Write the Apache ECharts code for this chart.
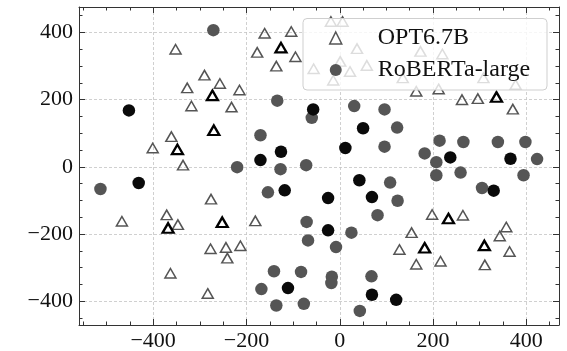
<!DOCTYPE html>
<html>
<head>
<meta charset="utf-8">
<script src="https://cdn.jsdelivr.net/npm/echarts@6/dist/echarts.min.js"></script>
<style>
html,body{margin:0;padding:0;background:#fff;}
#chart{width:567px;height:351px;}
</style>
</head>
<body>
<div id="chart"></div>
<script>
// ---- data ----
const seriesNames = ['OPT6.7B', 'RoBERTa-large'];
const optGray = [
  [-352,350],[-327,235],[-290,273],[-257,248],[-215,229],[-318,181],[-232,178],[-361,90],[-401,56],[-336,5],
  [-177,341],[-161,398],[-136,300],[-104,403],[-95,328],
  [-19,433],[6,433],[37,352],[1,314],[-56,292],[22,284],[58,302],[-14,258],[135,265],[173,344],[220,336],[308,265],[377,245],
  [164,225],[212,232],[262,200],[296,203],[371,172],
  [198,-142],[264,-144],[154,-196],[128,-246],[164,-290],[216,-281],[357,-179],[343,-206],[364,-252],[311,-292],
  [-467,-162],[-371,-143],[-347,-172],[-276,-96],[-181,-161],[-277,-244],[-244,-240],[-241,-272],[-213,-235],[-363,-317],[-283,-377]
];
const optBlack = [
  [-126,355],[-273,213],[-270,109],[-348,52],[-368,-182],[-252,-165],[182,-241],[233,-154],[310,-234],[336,208]
];
const robGray = [
  [-271,407],[-220,-1],[-170,94],[-127,-7],[-134,197],[-60,146],[-72,5],[31,181],[96,171],[123,117],[96,60],
  [182,40],[214,78],[265,74],[207,14],[339,74],[398,74],[423,23],[207,-25],[259,-17],[394,-25],[108,-47],
  [305,-63],[124,-101],[81,-144],[-71,-164],[25,-196],[-68,-219],[-8,-239],[-83,-313],[-17,-327],[-18,-346],
  [68,-326],[-77,-408],[43,-429],[-513,-66],[-141,-311],[-168,-364],[-136,-413],[-154,-76]
];
const robBlack = [
  [-452,168],[-170,20],[-126,45],[-57,171],[50,115],[12,56],[237,28],[366,24],[42,-40],[-118,-70],
  [-25,-93],[69,-90],[-25,-189],[-111,-361],[69,-381],[121,-396],[330,-71],[-431,-48]
];
const xMajor = [-400,-200,0,200,400];
const xMinor = [-550,-500,-450,-350,-300,-250,-150,-100,-50,50,100,150,250,300,350,450];
const yMajor = [-400,-200,0,200,400];
const yMinor = [-450,-350,-300,-250,-150,-100,-50,50,100,150,250,300,350,450];
const xRange = [-559, 470];
const yRange = [-471, 476];

// ---- styling ----
const FONT = '"Liberation Serif", "Times New Roman", serif';
const AXIS_COLOR = '#333';
const fmt = v => String(v).replace('-', '\u2212');

function mkAxis(dim, pos, ticks, len, opts) {
  const range = dim === 'x' ? xRange : yRange;
  return Object.assign({
    type: 'value', gridIndex: 0, position: pos,
    min: range[0], max: range[1],
    axisLine: { show: true, onZero: false, lineStyle: { color: AXIS_COLOR, width: 1 } },
    axisTick: { show: true, inside: true, length: len, customValues: ticks, lineStyle: { color: AXIS_COLOR, width: 1 } },
    axisLabel: { show: false },
    splitLine: { show: false },
    minorTick: { show: false },
    minorSplitLine: { show: false }
  }, opts || {});
}

const labelStyle = { show: true, fontFamily: FONT, fontSize: 22, color: '#111', formatter: fmt };

const xAxes = [
  mkAxis('x', 'bottom', xMajor, 6, {
    axisLabel: Object.assign({ customValues: xMajor, margin: 5 }, labelStyle),
    splitLine: { show: true, lineStyle: { color: '#c4c4c4', width: 0.8, type: [3, 2] } }
  }),
  mkAxis('x', 'bottom', xMinor, 3.5, { axisLine: { show: false, onZero: false } }),
  mkAxis('x', 'top', xMajor, 6),
  mkAxis('x', 'top', xMinor, 3.5, { axisLine: { show: false, onZero: false } })
];
const yAxes = [
  mkAxis('y', 'left', yMajor, 6, {
    axisLabel: Object.assign({ customValues: yMajor, margin: 6 }, labelStyle),
    splitLine: { show: true, lineStyle: { color: '#c4c4c4', width: 0.8, type: [3, 2] } }
  }),
  mkAxis('y', 'left', yMinor, 3.5, { axisLine: { show: false, onZero: false } }),
  mkAxis('y', 'right', yMajor, 6),
  mkAxis('y', 'right', yMinor, 3.5, { axisLine: { show: false, onZero: false } })
];

const triGray = { color: 'rgba(0,0,0,0)', borderColor: '#555', borderWidth: 1.5, opacity: 1 };
const triBlack = { color: 'rgba(0,0,0,0)', borderColor: '#000', borderWidth: 2.3, opacity: 1 };

const chart = echarts.init(document.getElementById('chart'), null, { renderer: 'canvas' });
chart.setOption({
  animation: false,
  backgroundColor: '#fff',
  grid: { left: 79, right: 8, top: 7, bottom: 26, containLabel: false, outerBoundsMode: 'none' },
  xAxis: xAxes,
  yAxis: yAxes,
  graphic: {
    elements: [{
      type: 'rect', z: 3, silent: true,
      shape: { x: 303, y: 18.5, width: 244, height: 71.5, r: 4 },
      style: { fill: 'rgba(255,255,255,0.8)', stroke: '#cfcfcf', lineWidth: 1 }
    }]
  },
  legend: {
    z: 5,
    orient: 'vertical',
    left: 329, top: 26,
    padding: 0,
    itemWidth: 12, itemHeight: 12, itemGap: 8,
    symbolKeepAspect: true,
    textStyle: { fontFamily: FONT, fontSize: 24, color: '#111', lineHeight: 24, padding: [0, 0, 0, 31] },
    data: [
      { name: seriesNames[0], icon: 'triangle', itemStyle: { color: 'rgba(0,0,0,0)', borderColor: '#555', borderWidth: 1.5, opacity: 1 } },
      { name: seriesNames[1], icon: 'circle', itemStyle: { color: '#555', borderWidth: 0, opacity: 1 } }
    ]
  },
  series: [
    { name: seriesNames[0], type: 'scatter', symbol: 'triangle', symbolSize: [11, 9.5], itemStyle: triGray, data: optGray, z: 2 },
    { name: seriesNames[0], type: 'scatter', symbol: 'triangle', symbolSize: [11, 9.5], itemStyle: triBlack, data: optBlack, z: 2 },
    { name: seriesNames[1], type: 'scatter', symbol: 'circle', symbolSize: 12.5, itemStyle: { color: '#555', opacity: 1 }, data: robGray, z: 2 },
    { name: seriesNames[1], type: 'scatter', symbol: 'circle', symbolSize: 12.5, itemStyle: { color: '#0a0a0a', opacity: 1 }, data: robBlack, z: 2 }
  ]
});
</script>
</body>
</html>
